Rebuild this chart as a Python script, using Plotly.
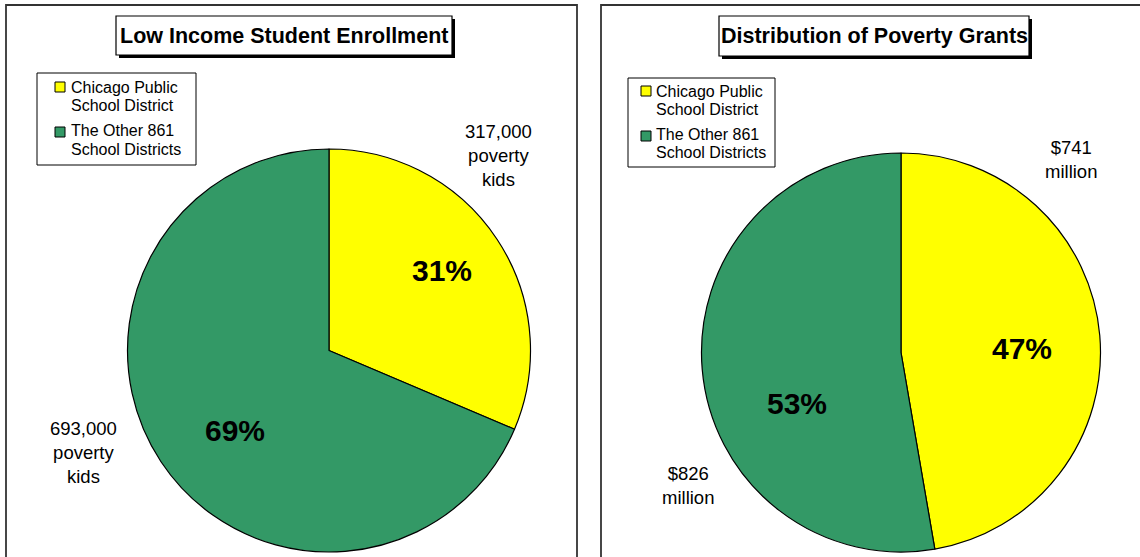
import plotly.graph_objects as go

W, H = 1140, 557

# ---- data ----
categories = ["Chicago Public<br>School District", "The Other 861<br>School Districts"]
colors = ["#FFFF00", "#339966"]

enroll_title = "Low Income Student Enrollment"
enroll_values = [317000, 693000]

grants_title = "Distribution of Poverty Grants"
grants_values = [741, 826]  # $ million

FONT = "Liberation Sans, Arial, sans-serif"


def px(x):
    return x / W


def py(y):
    return 1 - y / H


def pct(vals):
    s = sum(vals)
    return [f"{round(100 * v / s)}%" for v in vals]


fig = go.Figure()

# Left pie
cx, cy, r = 329, 350.5, 201.5
fig.add_trace(go.Pie(
    labels=categories, values=enroll_values, sort=False, direction="clockwise",
    rotation=0, textinfo="none", hoverinfo="label+value+percent",
    marker=dict(colors=colors, line=dict(color="black", width=1.2)),
    domain=dict(x=[px(cx - r), px(cx + r)], y=[py(cy + r), py(cy - r)]),
    showlegend=False,
))

# Right pie
cx2, cy2, r2 = 901, 352.5, 199.5
fig.add_trace(go.Pie(
    labels=categories, values=grants_values, sort=False, direction="clockwise",
    rotation=0, textinfo="none", hoverinfo="label+value+percent",
    marker=dict(colors=colors, line=dict(color="black", width=1.2)),
    domain=dict(x=[px(cx2 - r2), px(cx2 + r2)], y=[py(cy2 + r2), py(cy2 - r2)]),
    showlegend=False,
))

shapes = []
annotations = []


def rect(x0, y0, x1, y1, fill, line_w=1.0, line_c="black", layer="above"):
    shapes.append(dict(type="rect", xref="paper", yref="paper",
                       x0=px(x0), x1=px(x1), y0=py(y1), y1=py(y0),
                       line=dict(color=line_c, width=line_w), fillcolor=fill, layer=layer))


def text(t, x, y, size, xanchor="center", bold=False):
    annotations.append(dict(text=f"<b>{t}</b>" if bold else t, x=px(x), y=py(y),
                            xref="paper", yref="paper", showarrow=False,
                            font=dict(family=FONT, size=size, color="black"),
                            xanchor=xanchor, yanchor="middle", align="center"))


# panel borders
for x0, x1 in [(6, 577), (601, 1160)]:
    rect(x0, 5, x1, 580, "rgba(0,0,0,0)", line_w=1.8, line_c="#333333", layer="below")

# title boxes with shadow
title_boxes = [(116, 452, 16, 55, enroll_title), (719, 1029, 16, 56, grants_title)]
for x0, x1, y0, y1, t in title_boxes:
    rect(x0 + 3, y0 + 3, x1 + 3, y1 + 3, "black", line_w=0)
    rect(x0, y0, x1, y1, "white", line_w=1.2)
    text(t, (x0 + x1) / 2, (y0 + y1) / 2, 21.5, bold=True)

# legends (box, swatches, text lines)
legends = [
    dict(box=(37, 73, 196, 165), sw_x=55, sw_y=[82, 127], tx=69, lines=[[87.5, 105.5], [130.5, 149.5]]),
    dict(box=(628, 78, 775, 167), sw_x=641, sw_y=[86, 131], tx=654, lines=[[91.5, 109.5], [134.5, 152.5]]),
]
for lg in legends:
    bx0, by0, bx1, by1 = lg["box"]
    rect(bx0, by0, bx1, by1, "white", line_w=1.0)
    for i, cat in enumerate(categories):
        sy = lg["sw_y"][i]
        rect(lg["sw_x"], sy, lg["sw_x"] + 10, sy + 10, colors[i], line_w=1.0)
        for part, ly in zip(cat.split("<br>"), lg["lines"][i]):
            text(part, lg["tx"], ly, 16, xanchor="left")

ep = pct(enroll_values)
gp = pct(grants_values)
labels = [
    (f"{enroll_values[0]:,}<br>poverty<br>kids", 498, 155, 18.5, False),
    (f"{enroll_values[1]:,}<br>poverty<br>kids", 84, 452, 18.5, False),
    (ep[0], 442, 270, 30, True),
    (ep[1], 235, 430, 30, True),
    (f"${grants_values[0]}<br>million", 1071, 160, 18.5, False),
    (f"${grants_values[1]}<br>million", 688, 485, 18.5, False),
    (gp[0], 1022, 348, 30, True),
    (gp[1], 797, 403, 30, True),
]
for t, x, y, s, b in labels:
    text(t, x, y, s, bold=b)

fig.update_layout(
    width=W, height=H, margin=dict(l=0, r=0, t=0, b=0),
    paper_bgcolor="white", plot_bgcolor="white",
    shapes=shapes, annotations=annotations,
    font=dict(family=FONT),
)

fig.write_html("out.html", config={"displayModeBar": False},
               post_script="document.body.style.margin='0';")
